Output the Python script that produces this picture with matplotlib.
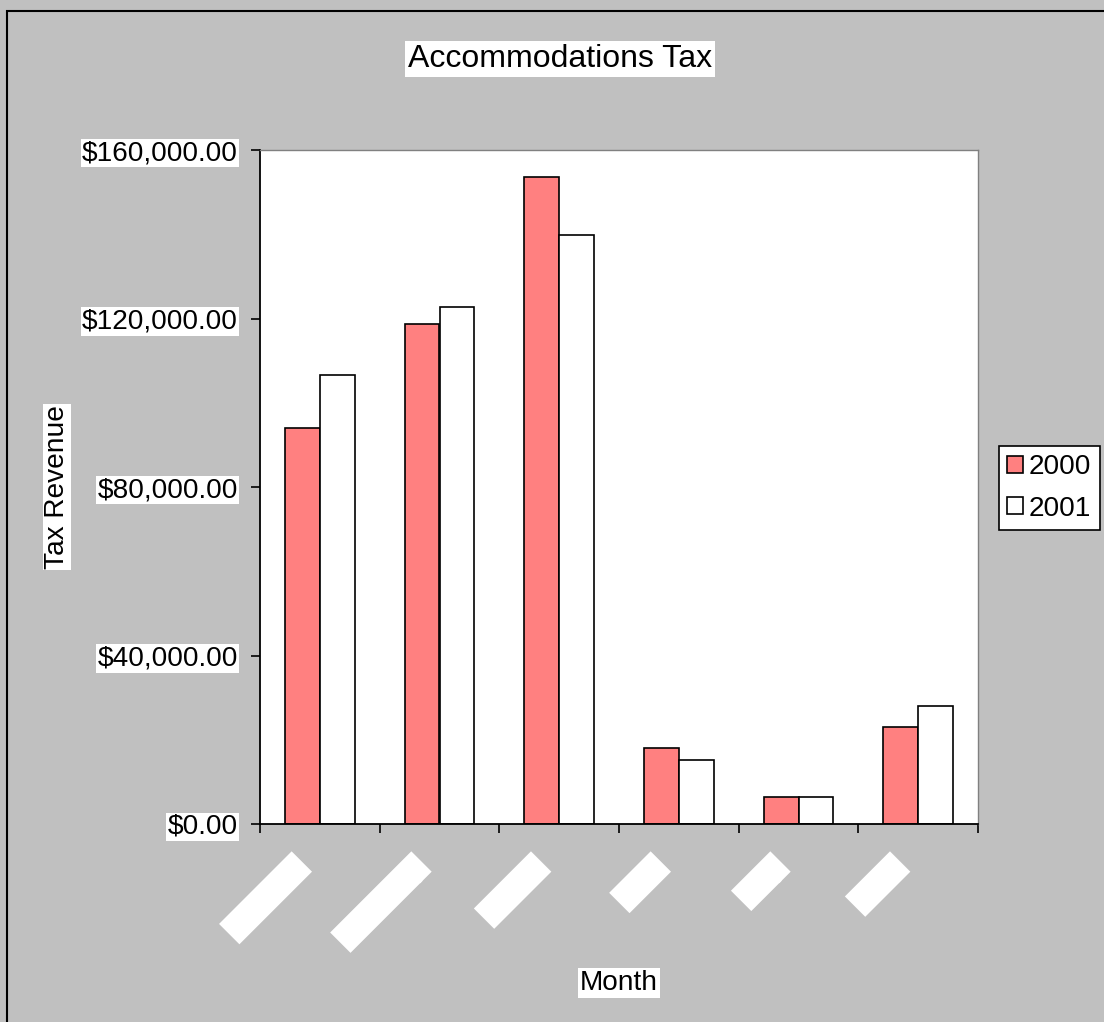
import matplotlib
matplotlib.use("Agg")
import matplotlib.pyplot as plt
import numpy as np
from matplotlib.patches import Rectangle

plt.rcParams['font.family'] = ['Liberation Sans', 'DejaVu Sans']

# ---- data ----
months = ["January", "February", "March", "April", "May", "June"]
series_names = ["2000", "2001"]
rev_2000 = [94000, 118700, 153600, 18000, 6400, 23000]
rev_2001 = [106600, 122700, 139800, 15200, 6400, 28000]
y_ticks = [0, 40000, 80000, 120000, 160000]
y_tick_labels = ["${:,.2f}".format(v) for v in y_ticks]

W, H = 1104, 1022
DPI = 100
fig = plt.figure(figsize=(W / DPI, H / DPI), dpi=DPI)
fig.patch.set_facecolor('#C0C0C0')

def px2pt(px):
    return px * 72.0 / DPI

FS = px2pt(28)

# outer chart-area border
fig.add_artist(Rectangle((7 / W, -0.05), 1.2, 1 - 11 / H + 0.05,
                         transform=fig.transFigure, fill=False,
                         edgecolor='black', linewidth=1.5))

left, right, top, bottom = 260, 978, 150, 824
ax = fig.add_axes([left / W, 1 - bottom / H, (right - left) / W, (bottom - top) / H])
ax.set_facecolor('white')

x = np.arange(len(months))
bw = 0.29
ax.bar(x - bw, rev_2000, width=bw, align='edge', color='#FF8080',
       edgecolor='black', linewidth=1.2, label=series_names[0])
ax.bar(x, rev_2001, width=bw, align='edge', color='white',
       edgecolor='black', linewidth=1.2, label=series_names[1])

ax.set_xlim(-0.5, len(months) - 0.5)
ax.set_ylim(0, 160000)

# spines
for s in ['top', 'right']:
    ax.spines[s].set_color('#808080')
    ax.spines[s].set_linewidth(1.0)
for s in ['left', 'bottom']:
    ax.spines[s].set_color('black')
    ax.spines[s].set_linewidth(1.3)

# y ticks
ax.set_yticks(y_ticks)
ax.set_yticklabels(y_tick_labels)
ax.tick_params(axis='y', direction='out', length=px2pt(9), width=1.2,
               labelsize=FS, pad=px2pt(13))
for t in ax.yaxis.get_major_ticks():
    t.label1.set_bbox(dict(boxstyle='square,pad=0.05', fc='white', ec='none'))

# x ticks at category boundaries, no labels
ax.set_xticks(np.arange(-0.5, len(months), 1.0))
ax.set_xticklabels([])
ax.tick_params(axis='x', direction='out', length=px2pt(9), width=1.2)

# rotated category labels (white text on white boxes as in reference)
for i, m in enumerate(months):
    ax.annotate(m, xy=(i, 0), xycoords=('data', 'axes fraction'),
                xytext=(-19, -38.5), textcoords='offset pixels',
                rotation=45, rotation_mode='anchor', ha='right', va='center',
                fontsize=FS, color='white',
                bbox=dict(boxstyle='square,pad=0.05', fc='white', ec='none'))

# title and axis titles
fig.text(560 / W, 1 - 59 / H, "Accommodations Tax", ha='center', va='center',
         fontsize=px2pt(32),
         bbox=dict(boxstyle='square,pad=0.08', fc='white', ec='none'))
fig.text(57 / W, 1 - 487 / H, "Tax Revenue", ha='center', va='center',
         rotation=90, fontsize=FS,
         bbox=dict(boxstyle='square,pad=0.05', fc='white', ec='none'))
fig.text(619 / W, 1 - 983 / H, "Month", ha='center', va='center',
         fontsize=FS,
         bbox=dict(boxstyle='square,pad=0.08', fc='white', ec='none'))

# legend
leg = ax.legend(loc='upper left', bbox_to_anchor=(999 / W, 1 - 446 / H),
                bbox_transform=fig.transFigure, fontsize=FS,
                frameon=True, fancybox=False, framealpha=1,
                edgecolor='black', borderaxespad=0, borderpad=0.3,
                handlelength=0.57, handleheight=0.57, handletextpad=0.2,
                labelspacing=0.54)
leg.get_frame().set_linewidth(1.2)

fig.savefig("out.png", dpi=DPI, facecolor=fig.get_facecolor())
